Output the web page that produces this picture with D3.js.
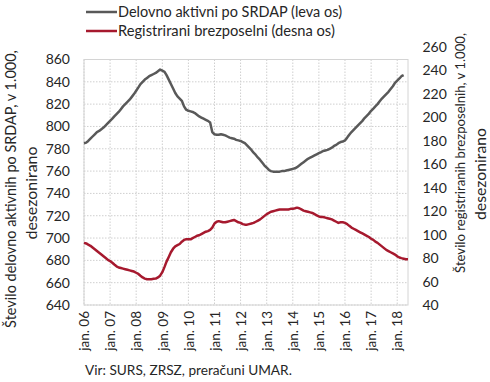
<!DOCTYPE html>
<html><head><meta charset="utf-8">
<script src="https://cdn.jsdelivr.net/npm/d3@7"></script>
<style>
html,body{margin:0;padding:0;background:#fff;}
svg{display:block;font-family:Lato,"Open Sans",sans-serif;}
</style></head>
<body><svg id="c" width="490" height="382"></svg>
<script>
// ---- data ----
const seriesNames = ["Delovno aktivni po SRDAP (leva os)", "Registrirani brezposelni (desna os)"];
// monthly, seasonally adjusted, from Jan 2006
const activeSRDAP = [
 785,785.5,787,789,791,793,795,796,797.5,799,801,803,
 805,807,809,811,813,815.5,818,820,822,824,826.5,829,
 832,835,838,840,842,843.5,845,846,847,848,849.5,851,
 850,849,846,842,838,834,830,827,825,823,818,815,
 814,813.5,813,812,810.5,809,808,807,806,805,803.5,795,
 793,792.5,792.5,793,792.5,792,791,790,789.5,789,788,787.5,
 787,786,785,783,781,779,776.5,774.5,772,770,767.5,765,
 763,761,760,759.5,759.5,759.5,759.5,760,760,760.5,761,761.5,
 762,762.5,763.5,765,766.5,768,769.5,771,772,773,774,775,
 776,777,778,778.5,779,780,781,782.5,783.5,785,786,786.5,
 787.5,790,792.5,795,797,799,801,803,805,807.5,809.5,811.5,
 814,816,818,820,822.5,825,827,829,831,833.5,836,839,
 841,843,845,846
];
const registeredUnemployed = [
 93,92.5,91.5,90.5,89,87.5,86,84.5,83,81.5,80,78.5,
 77.5,76,74.5,73,72,71.5,71,70.5,70,69.5,69,68.5,
 67.5,66.5,65,63.5,62.5,62,62,62,62.3,62.5,63.5,65,
 68,72.5,77,81,85,88,90,91,92,94,95.5,96,
 96,96,97,98,99,99.5,100.5,101.5,102.5,103,104,106,
 109.5,111,111.5,111,110.5,110.5,111,111.5,112,112.5,111.5,110.5,
 110,109,108.5,108.5,109,109.5,110,111,112,113,114.5,116,
 117.5,118.5,119.5,120,120.5,121,121.5,121.5,121.5,121.5,121.5,122,
 122,122.5,123,122.5,121.5,120.5,120,119.5,119,118.5,117.5,116.5,
 115.5,115,115,114.5,114,113.5,113,112,111,110,110.5,110.5,
 110,109,107.5,106,105,104,103,102,101,100,99,98,
 96.5,95.5,94,93,91.5,90,88.5,87,86,85,84,83,
 81.5,80.5,80,79.5,79,79
];
const tickYears = [2006,2007,2008,2009,2010,2011,2012,2013,2014,2015,2016,2017,2018];
const tickLabels = ["jan. 06","jan. 07","jan. 08","jan. 09","jan. 10","jan. 11","jan. 12","jan. 13","jan. 14","jan. 15","jan. 16","jan. 17","jan. 18"];
const leftTicks = [640,660,680,700,720,740,760,780,800,820,840,860];
const rightTicks = [40,60,80,100,120,140,160,180,200,220,240,260];
const leftTitle = ["Število delovno aktivnih po SRDAP, v 1.000,", "desezonirano"];
const rightTitle = ["Število registriranih brezposelnih, v 1.000,", "desezonirano"];
const source = "Vir: SURS, ZRSZ, preračuni UMAR.";

// ---- layout ----
const svg = d3.select("#c");
const L = 84, R = 408, T = 59.5, B = 305;
const monthDate = i => new Date(2006, i, 1);
const x = d3.scaleTime().domain([new Date(2006,0,1), new Date(2018,5,1)]).range([L, R]);
const yL = d3.scaleLinear().domain([640, 860]).range([B, T]);
const yR = d3.scaleLinear().domain([40, 260]).range([B, 47]);
const cGray = "#595959", cRed = "#a6192e", txt = "#262626";

function fit(sel, w){ // scale font-size so text spans target width
  const n = sel.node(); const cur = n.getComputedTextLength();
  const fs = parseFloat(sel.attr("font-size"));
  sel.attr("font-size", (fs * w / cur).toFixed(2));
}

// grid
const g = svg.append("g");
g.selectAll("line.h").data(leftTicks).join("line")
  .attr("x1", L).attr("x2", R).attr("y1", d => yL(d)).attr("y2", d => yL(d))
  .attr("stroke", "#cfcfcf").attr("stroke-width", 1).attr("stroke-dasharray", "1.5,1.5");
g.selectAll("line.v").data(tickYears).join("line")
  .attr("x1", d => x(new Date(d,0,1))).attr("x2", d => x(new Date(d,0,1)))
  .attr("y1", T).attr("y2", B)
  .attr("stroke", "#cfcfcf").attr("stroke-width", 1).attr("stroke-dasharray", "1.5,1.5");
// frame
svg.append("rect").attr("x", L).attr("y", T).attr("width", R-L).attr("height", B-T)
  .attr("fill", "none").attr("stroke", "#d4d4d4").attr("stroke-width", 1);

// axes
const axL = svg.append("g").attr("transform", `translate(${L},0)`)
  .call(d3.axisLeft(yL).tickValues(leftTicks).tickSize(0).tickPadding(14));
const axR = svg.append("g").attr("transform", `translate(${R},0)`)
  .call(d3.axisRight(yR).tickValues(rightTicks).tickSize(0).tickPadding(14.5));
const axX = svg.append("g").attr("transform", `translate(0,${B})`)
  .call(d3.axisBottom(x).tickValues(tickYears.map(d => new Date(d,0,1))).tickSize(0)
    .tickFormat((d,i) => tickLabels[i]));
[axL, axR, axX].forEach(a => {
  a.select(".domain").remove();
  a.selectAll("text").attr("font-size", 14).attr("fill", txt).attr("font-family", "Lato");
});
axX.selectAll("text").attr("transform", "rotate(-90)").attr("text-anchor", "end")
  .attr("x", -6).attr("y", 0).attr("dy", "0.35em").attr("font-size", 13.5);

// lines
const line = (scale) => d3.line().x((d,i) => x(monthDate(i))).y(d => scale(d)).curve(d3.curveLinear);
svg.append("path").datum(activeSRDAP).attr("d", line(yL))
  .attr("fill", "none").attr("stroke", cGray).attr("stroke-width", 2.5).attr("stroke-linejoin", "round");
svg.append("path").datum(registeredUnemployed).attr("d", line(yR))
  .attr("fill", "none").attr("stroke", cRed).attr("stroke-width", 2.5).attr("stroke-linejoin", "round");

// legend
const leg = [{n: seriesNames[0], c: cGray, y: 12, w: 224}, {n: seriesNames[1], c: cRed, y: 31, w: 217}];
leg.forEach(d => {
  svg.append("line").attr("x1", 86).attr("x2", 117).attr("y1", d.y).attr("y2", d.y)
    .attr("stroke", d.c).attr("stroke-width", 2.5);
  const t = svg.append("text").attr("x", 118).attr("y", d.y).attr("dy", "0.35em")
    .attr("font-size", 14).attr("fill", txt).text(d.n);
  fit(t, d.w);
});

// axis titles
function vtext(cx, cy, s, w){
  const t = svg.append("text").attr("transform", `translate(${cx},${cy}) rotate(-90)`)
    .attr("text-anchor", "middle").attr("dy", "0.35em").attr("font-size", 14).attr("fill", txt).text(s);
  if (w) fit(t, w);
  return t;
}
vtext(11, 189, leftTitle[0], 278);
vtext(31, 193, leftTitle[1], 93);
vtext(460, 153, rightTitle[0], 240);
vtext(480, 174, rightTitle[1], 92);

// source
const st = svg.append("text").attr("x", 85).attr("y", 375).attr("font-size", 14).attr("fill", txt).text(source);
fit(st, 207);
</script></body></html>
